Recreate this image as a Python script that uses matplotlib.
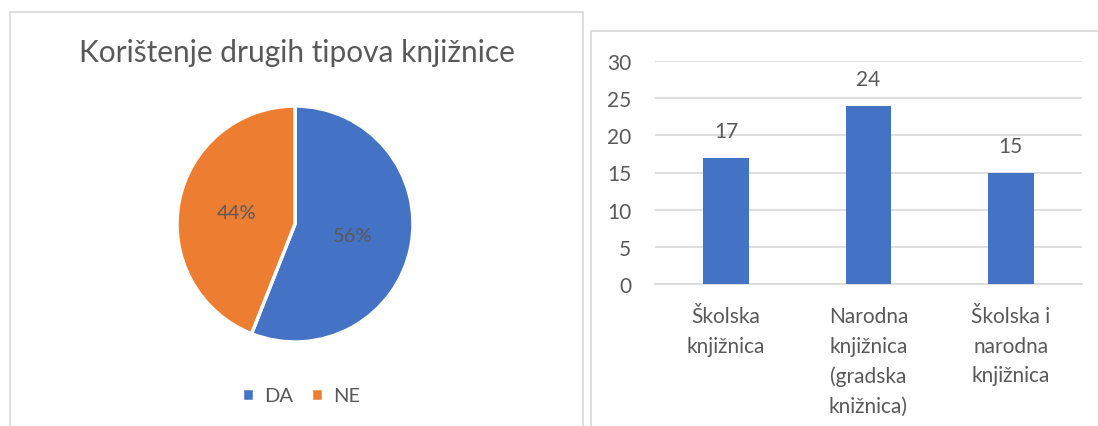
import matplotlib.pyplot as plt
from matplotlib.patches import Rectangle

plt.rcParams['font.family'] = ['Lato', 'DejaVu Sans']

# pie data
pie_labels = ['DA', 'NE']
pie_values = [56, 44]

# bar data
bar_categories = ['Školska\nknjižnica', 'Narodna\nknjižnica\n(gradska\nknižnica)', 'Školska i\nnarodna\nknjižnica']
bar_values = [17, 24, 15]

blue = '#4472C4'
orange = '#ED7D31'
text_col = '#595959'
grid_col = '#D9D9D9'

W, H = 1098, 427
fig = plt.figure(figsize=(W / 100, H / 100), dpi=100)

# chart frames
fig.patches.append(Rectangle((10 / W, -0.1), 573 / W, 1.1 - 13 / H, transform=fig.transFigure,
                             fill=False, edgecolor=grid_col, linewidth=1.2))
fig.patches.append(Rectangle((591 / W, -0.1), 600 / W, 1.1 - 32 / H, transform=fig.transFigure,
                             fill=False, edgecolor=grid_col, linewidth=1.2))

# pie chart
ax1 = fig.add_axes([(295 - 118) / W, (H - 225 - 118) / H, 236 / W, 236 / H])
wedges, texts, autotexts = ax1.pie(pie_values, colors=[blue, orange], startangle=90, counterclock=False,
                                   autopct='%1.0f%%', pctdistance=0.5,
                                   wedgeprops=dict(edgecolor='white', linewidth=2.5),
                                   textprops=dict(color=text_col, fontsize=14.5))
ax1.set_xlim(-1, 1)
ax1.set_ylim(-1, 1)
ax1.set_aspect('equal')
fig.text(297 / W, 1 - 53 / H, 'Korištenje drugih tipova knjižnice', ha='center', va='center',
         fontsize=21.5, color=text_col)
fig.legend(wedges, pie_labels, loc='center', bbox_to_anchor=(301 / W, 1 - 397 / H), ncol=2,
           frameon=False, fontsize=14.5, labelcolor=text_col, handlelength=0.6, handleheight=0.6,
           columnspacing=0.9, handletextpad=0.5)

# bar chart
ax2 = fig.add_axes([655 / W, (H - 285) / H, 427 / W, 223 / H])
x = range(len(bar_values))
bars = ax2.bar(x, bar_values, width=0.32, color=blue, zorder=3)
ax2.set_xlim(-0.5, 2.5)
ax2.set_ylim(0, 30)
ax2.set_yticks(range(0, 31, 5))
ax2.set_xticks(list(x))
ax2.set_xticklabels(bar_categories, linespacing=1.6)
ax2.grid(axis='y', color=grid_col, linewidth=1.2, zorder=0)
ax2.set_axisbelow(True)
for s in ['top', 'right', 'left']:
    ax2.spines[s].set_visible(False)
ax2.spines['bottom'].set_color(grid_col)
ax2.spines['bottom'].set_linewidth(1.2)
ax2.tick_params(axis='y', length=0, pad=17, labelsize=15, labelcolor=text_col)
ax2.tick_params(axis='x', length=0, pad=16, labelsize=15, labelcolor=text_col)
for b, v in zip(bars, bar_values):
    ax2.annotate(str(v), (b.get_x() + b.get_width() / 2, v), xytext=(0, 19), textcoords='offset points',
                 ha='center', va='center', fontsize=15, color=text_col)

fig.savefig('out.png', dpi=100)
